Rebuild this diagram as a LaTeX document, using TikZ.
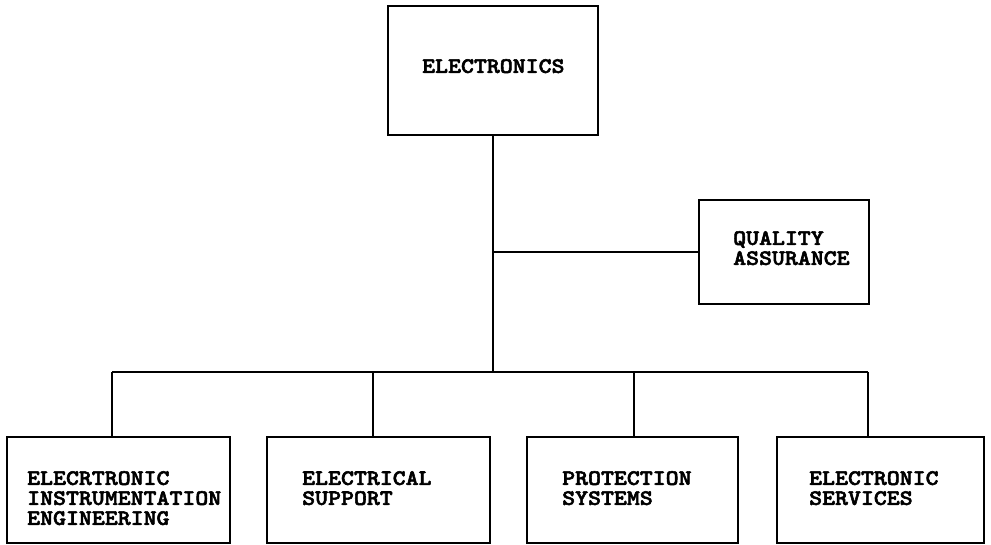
\documentclass[tikz,border=0pt]{standalone}
\usepackage{fontspec}
\newfontfamily\twfont[FakeStretch=1.12,FakeBold=2.5]{lmmonolt10-bold.otf}
\begin{document}
\begin{tikzpicture}[x=1pt,y=-1pt,
  box/.style={draw=black, line width=1.8pt, inner sep=0pt, fill=none},
  lbl/.style={inner sep=0pt, anchor=north west, align=left,
    font=\twfont\fontsize{22}{20}\selectfont},
  conn/.style={draw=black, line width=1.6pt}]
\useasboundingbox (0,0) rectangle (991,544);
% boxes
\node[box, minimum width=210pt, minimum height=129pt] (top) at (493,70.5) {};
\node[box, minimum width=170pt, minimum height=104pt] (qa) at (784,252) {};
\node[box, minimum width=223pt, minimum height=106pt] (b1) at (118.5,490) {};
\node[box, minimum width=223pt, minimum height=106pt] (b2) at (378.5,490) {};
\node[box, minimum width=211pt, minimum height=106pt] (b3) at (632.5,490) {};
\node[box, minimum width=207pt, minimum height=106pt] (b4) at (880.5,490) {};
% texts
\node[lbl] (ttop) at (422,59) {ELECTRONICS};
\node[lbl] (tqa) at (733,231) {QUALITY\\ASSURANCE};
\node[lbl] (t1) at (27,471) {ELECRTRONIC\\INSTRUMENTATION\\ENGINEERING};
\node[lbl] (t2) at (302,471) {ELECTRICAL\\SUPPORT};
\node[lbl] (t3) at (562,471) {PROTECTION\\SYSTEMS};
\node[lbl] (t4) at (809,471) {ELECTRONIC\\SERVICES};
% connectors
\coordinate (bus) at (top.south |- 0,372);
\coordinate (d1) at (112,372);
\coordinate (d2) at (373,372);
\coordinate (d3) at (634,372);
\coordinate (d4) at (868,372);
\draw[conn] (top.south) -- (bus);
\draw[conn] (top.south |- qa.west) -- (qa.west);
\draw[conn] (d1) -- (d4);
\draw[conn] (d1) -- (d1 |- b1.north);
\draw[conn] (d2) -- (d2 |- b2.north);
\draw[conn] (d3) -- (d3 |- b3.north);
\draw[conn] (d4) -- (d4 |- b4.north);
\end{tikzpicture}
\end{document}
